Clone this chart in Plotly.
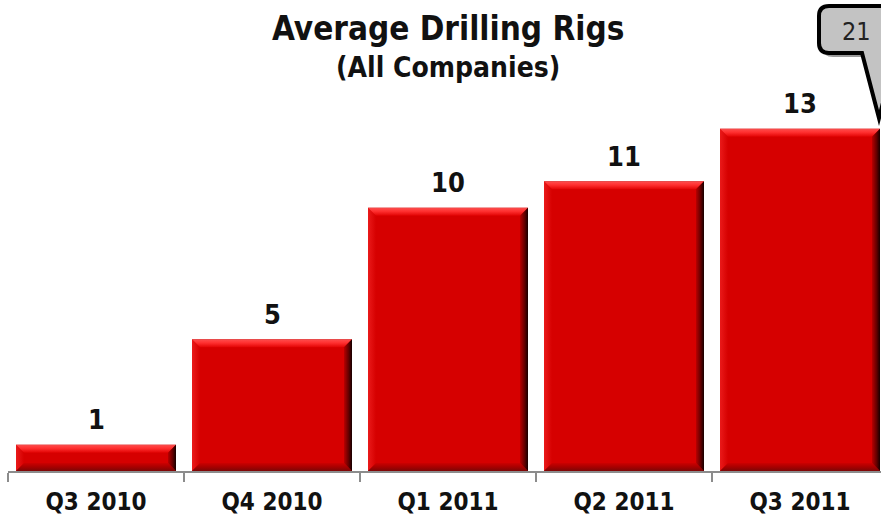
import plotly.graph_objects as go

# Data
quarters = ["Q3 2010", "Q4 2010", "Q1 2011", "Q2 2011", "Q3 2011"]
rigs = [1, 5, 10, 11, 13]
callout_value = "21"

W, H = 881, 524
ML, MR, MT, MB = 8, 0, 76, 53
Y_MAX = 15
X_MIN = -0.5
X_MAX = X_MIN + (W - ML - MR) / 176.0

BAR_W = 0.909
FONT = "DejaVu Sans Condensed, DejaVu Sans, sans-serif"

FACE = "#d60000"

fig = go.Figure()
xs = list(range(len(quarters)))

fig.add_trace(go.Bar(
    x=xs, y=rigs, width=BAR_W,
    marker=dict(color=FACE, line=dict(width=0)),
    hoverinfo="skip", showlegend=False,
))

# bevel sizes in data units (about 8 px each way)
plot_h = H - MT - MB
dx = 8 / 176.0
dy = 8 * Y_MAX / plot_h


def band(px, py, kind, scale):
    fig.add_trace(go.Scatter(
        x=px, y=py, mode="lines", fill="toself",
        line=dict(width=0, color="rgba(0,0,0,0)"),
        fillgradient=dict(type=kind, colorscale=scale),
        hoverinfo="skip", showlegend=False,
    ))


for i, v in zip(xs, rigs):
    x0, x1 = i - BAR_W / 2, i + BAR_W / 2
    y0, y1 = 0, v
    # left edge
    band([x0, x0, x0 + dx, x0 + dx, x0], [y0, y1, y1 - dy, y0 + dy, y0],
         "horizontal", [[0, "#ea1a1a"], [1, FACE]])
    # bottom edge
    band([x0, x1, x1 - dx, x0 + dx, x0], [y0, y0, y0 + dy, y0 + dy, y0],
         "vertical", [[0, "#7c0606"], [0.5, "#a80000"], [1, "#cc0000"]])
    # top edge
    band([x0, x1, x1 - dx, x0 + dx, x0], [y1, y1, y1 - dy, y1 - dy, y1],
         "vertical", [[0, "#e20404"], [0.55, "#ff3030"], [0.85, "#ff4444"], [1, "#e85050"]])
    # right edge
    band([x1, x1, x1 - dx, x1 - dx, x1], [y1, y0, y0 + dy, y1 - dy, y1],
         "horizontal", [[0, "#b80000"], [0.6, "#600000"], [1, "#140000"]])

# value labels above the bars
for i, v in zip(xs, rigs):
    fig.add_annotation(
        x=i, y=v, xref="x", yref="y", text=f"<b>{v}</b>", showarrow=False,
        yanchor="middle", yshift=25,
        font=dict(family=FONT, size=27, color="#111111"),
    )


def px_x(p):
    return (p - ML) / (W - ML - MR)


def px_y(p):
    return (H - MB - p) / plot_h


# title
fig.add_annotation(x=2, xref="x", y=px_y(28), yref="paper",
                   text="<b>Average Drilling Rigs</b>", showarrow=False,
                   yanchor="middle", font=dict(family=FONT, size=33, color="#111111"))
fig.add_annotation(x=2, xref="x", y=px_y(68), yref="paper",
                   text="<b>(All Companies)</b>", showarrow=False,
                   yanchor="middle", font=dict(family=FONT, size=28, color="#111111"))


# callout bubble in the top-right corner
def bubble_path(ox, oy):
    pts = [
        ("M", 905, 6), ("L", 829, 6), ("Q", 819, 6, 819, 16), ("L", 819, 43),
        ("Q", 819, 53, 829, 53), ("L", 862, 53), ("L", 879, 118),
        ("L", 896, 53), ("L", 905, 53),
    ]
    out = []
    for p in pts:
        cmd = p[0]
        coords = p[1:]
        seg = []
        for k in range(0, len(coords), 2):
            seg.append(f"{px_x(coords[k] + ox):.5f},{px_y(coords[k + 1] + oy):.5f}")
        out.append(cmd + " " + " ".join(seg))
    return " ".join(out) + " Z"


fig.add_shape(type="path", path=bubble_path(4, 4), xref="paper", yref="paper",
              fillcolor="#9a9a9a", line=dict(width=0), layer="above")
fig.add_shape(type="path", path=bubble_path(0, 0), xref="paper", yref="paper",
              fillcolor="#c3c3c3", line=dict(color="#000000", width=4), layer="above")
fig.add_annotation(x=px_x(856), y=px_y(31), xref="paper", yref="paper",
                   text=callout_value, showarrow=False, xanchor="center", yanchor="middle",
                   font=dict(family=FONT, size=25, color="#222222"))

fig.update_layout(
    width=W, height=H,
    margin=dict(l=ML, r=MR, t=MT, b=MB),
    paper_bgcolor="white", plot_bgcolor="white",
    bargap=0.09,
    xaxis=dict(
        range=[X_MIN, X_MAX], tickmode="array", tickvals=xs, ticktext=[f"<b>{q}</b>" for q in quarters],
        showline=True, linecolor="#8c8c8c", linewidth=1.5,
        ticks="outside", ticklen=8, tickcolor="rgba(0,0,0,0)",
        tickfont=dict(family=FONT, size=24, color="#111111"),
        showgrid=False, zeroline=False, fixedrange=True,
        minor=dict(tickmode="array", tickvals=[k - 0.5 for k in range(len(quarters) + 1)],
                   ticks="outside", ticklen=9, tickcolor="#8c8c8c", tickwidth=1.5, showgrid=False),
    ),
    yaxis=dict(range=[0, Y_MAX], visible=False, fixedrange=True),
    showlegend=False,
)

fig.write_html("out.html")
